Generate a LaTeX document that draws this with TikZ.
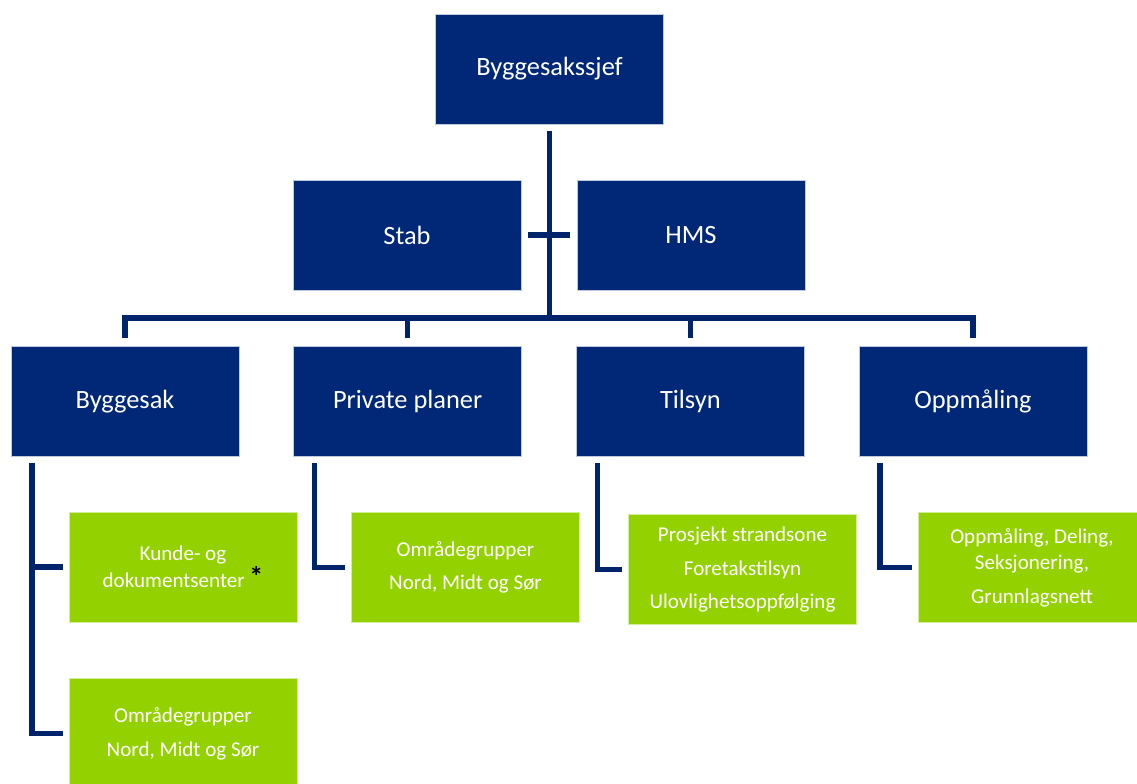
\documentclass[tikz,border=0pt]{standalone}
\usepackage{fontspec}
\setmainfont{Carlito}
\usepackage{tikz}
\usetikzlibrary{positioning}

\begin{document}
\begin{tikzpicture}[
    x=0.75pt, y=-0.75pt,
    node distance=40.5pt,
    box/.style={
        rectangle,
        fill=leaderblue,
        draw=white!75!leaderblue,
        line width=0.5pt,
        text=white,
        align=center,
        inner sep=0pt,
        minimum width=171pt,
        minimum height=82.5pt,
        font=\fontsize{19.8}{24}\selectfont
    },
    unit/.style={
        box,
        fill=unitgreen,
        draw=white!60!unitgreen,
        font=\fontsize{15.8}{20}\selectfont
    },
    link/.style={draw=linkblue, line width=4pt}
]

% Colors
\definecolor{leaderblue}{RGB}{0,40,118}
\definecolor{linkblue}{RGB}{0,36,108}
\definecolor{unitgreen}{RGB}{147,210,0}

\useasboundingbox (0,0) rectangle (1137,783);
\clip (0,0) rectangle (1137,783);

% Top
\node[box] (sjef) at (549.5,69) {Byggesakssjef};

% Staff
\node[box] (stab) at (407,235) {Stab};
\node[box, right=41.5pt of stab] (hms) {HMS};

% Sections
\node[box] (byggesak) at (125,401.5) {Byggesak};
\node[box, right=of byggesak] (planer) {Private planer};
\node[box, right=of planer] (tilsyn) {Tilsyn};
\node[box, right=of tilsyn] (oppmaaling) {Oppmåling};

% Units
\node[unit] (kunde) at (183,567) {
Kunde- og\\
dokumentsenter \raisebox{1pt}{\fontsize{21}{21}\selectfont\color{black}\bfseries *}
};

\node[unit, below=42pt of kunde] (omraader1) {
Områdegrupper\\[5pt]
Nord, Midt og Sør
};

\node[unit] (omraader2) at (465.5,567.5) {
Områdegrupper\\[5pt]
Nord, Midt og Sør
};

\node[unit] (prosjekter) at (742.5,569.5) {
Prosjekt strandsone\\[5pt]
Foretakstilsyn\\[5pt]
Ulovlighetsoppfølging
};

\node[unit] (kart) at (1032,567.5) {
Oppmåling, Deling,\\
Seksjonering,\\[5pt]
Grunnlagsnett
};

% Lines
\coordinate (bar) at (549.5,318);

\draw[link, shorten <=5pt] (sjef) -- (sjef |- bar);

\draw[link, shorten <=5pt, shorten >=5pt] (stab) -- (hms);

\draw[link, shorten <=6pt, shorten >=6pt] (byggesak) -- (byggesak |- bar) -- (oppmaaling |- bar) -- (oppmaaling);

\draw[link, shorten >=6pt] (planer |- bar) -- (planer);

\draw[link, shorten >=6pt] (tilsyn |- bar) -- (tilsyn);

\foreach \p/\q in {byggesak/kunde, byggesak/omraader1, planer/omraader2, tilsyn/prosjekter, oppmaaling/kart}
    \draw[link, shorten <=4.5pt, shorten >=4.5pt] ([xshift=16pt]\p.south west) |- (\q);

\end{tikzpicture}
\end{document}
